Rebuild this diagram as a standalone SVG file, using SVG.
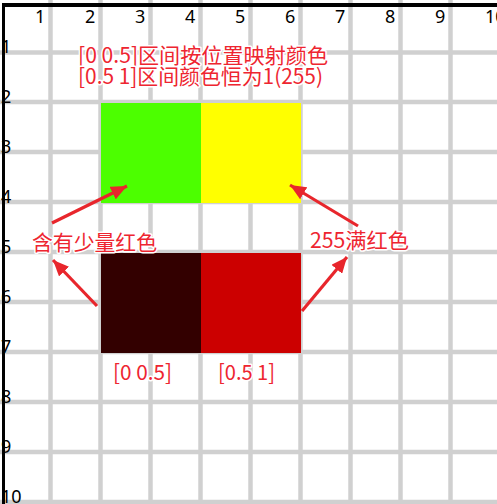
<svg xmlns="http://www.w3.org/2000/svg" width="497" height="504" viewBox="0 0 497 504">
<style>
.g{stroke:#d0d0d0;stroke-width:4.5}
.num{font-family:"Noto Sans","Noto Sans CJK SC",sans-serif;font-size:18px;fill:#000}
.lbl{font-family:"Noto Sans CJK SC","Noto Sans",sans-serif;font-size:21px;fill:#ee2530;stroke:#fff;stroke-width:3;stroke-linejoin:round;paint-order:stroke}
.arr{stroke:#e8262c;stroke-width:3.2;fill:none;marker-end:url(#ah)}
</style>
<defs>
<marker id="ah" markerUnits="userSpaceOnUse" markerWidth="18" markerHeight="14" refX="16" refY="7" orient="auto">
<path d="M0,0 L16,7 L0,14 z" fill="#e8262c"/>
</marker>
</defs>
<rect width="497" height="504" fill="#fff"/>
<g id="grid">
<line class="g" x1="50.5" y1="0" x2="50.5" y2="504"/>
<line class="g" x1="100.5" y1="0" x2="100.5" y2="504"/>
<line class="g" x1="150.5" y1="0" x2="150.5" y2="504"/>
<line class="g" x1="200.5" y1="0" x2="200.5" y2="504"/>
<line class="g" x1="250.5" y1="0" x2="250.5" y2="504"/>
<line class="g" x1="300.5" y1="0" x2="300.5" y2="504"/>
<line class="g" x1="350.5" y1="0" x2="350.5" y2="504"/>
<line class="g" x1="400.5" y1="0" x2="400.5" y2="504"/>
<line class="g" x1="450.5" y1="0" x2="450.5" y2="504"/>
<line class="g" x1="0" y1="52.5" x2="497" y2="52.5"/>
<line class="g" x1="0" y1="102" x2="497" y2="102"/>
<line class="g" x1="0" y1="152" x2="497" y2="152"/>
<line class="g" x1="0" y1="202" x2="497" y2="202"/>
<line class="g" x1="0" y1="252" x2="497" y2="252"/>
<line class="g" x1="0" y1="302" x2="497" y2="302"/>
<line class="g" x1="0" y1="352" x2="497" y2="352"/>
<line class="g" x1="0" y1="402" x2="497" y2="402"/>
<line class="g" x1="0" y1="452" x2="497" y2="452"/>
<line class="g" x1="0" y1="502" x2="497" y2="502"/>
<rect x="2" y="3" width="495" height="4" fill="#000"/>
<rect x="2" y="3" width="3" height="501" fill="#000"/>
</g>
<g id="axis-labels">
<text class="num" x="35" y="23">1</text>
<text class="num" x="85" y="23">2</text>
<text class="num" x="135" y="23">3</text>
<text class="num" x="185" y="23">4</text>
<text class="num" x="235" y="23">5</text>
<text class="num" x="285" y="23">6</text>
<text class="num" x="335" y="23">7</text>
<text class="num" x="385" y="23">8</text>
<text class="num" x="435" y="23">9</text>
<text class="num" x="485" y="23">10</text>
<text class="num" x="1" y="53">1</text>
<text class="num" x="1" y="103">2</text>
<text class="num" x="1" y="153">3</text>
<text class="num" x="1" y="203">4</text>
<text class="num" x="1" y="253">5</text>
<text class="num" x="1" y="303">6</text>
<text class="num" x="1" y="353">7</text>
<text class="num" x="1" y="403">8</text>
<text class="num" x="1" y="453">9</text>
<text class="num" x="1" y="503">10</text>
</g>
<g id="green"><rect x="101" y="103" width="100" height="100" fill="#4cff00"/></g>
<g id="yellow"><rect x="201" y="103" width="100" height="100" fill="#ffff00"/></g>
<g id="darkred"><rect x="101" y="253" width="100" height="100" fill="#330000"/></g>
<g id="red"><rect x="201" y="253" width="100" height="100" fill="#cc0000"/></g>
<g id="labels">
<text class="lbl" x="78" y="63" textLength="250" lengthAdjust="spacingAndGlyphs">[0 0.5]区间按位置映射颜色</text>
<text class="lbl" x="78" y="84" textLength="245" lengthAdjust="spacingAndGlyphs">[0.5 1]区间颜色恒为1(255)</text>
<text class="lbl" id="note-left" x="32" y="250" textLength="125" lengthAdjust="spacingAndGlyphs">含有少量红色</text>
<text class="lbl" id="note-right" x="310" y="248" textLength="99" lengthAdjust="spacingAndGlyphs">255满红色</text>
<text class="lbl" x="113" y="380" textLength="59" lengthAdjust="spacingAndGlyphs">[0 0.5]</text>
<text class="lbl" x="218" y="380" textLength="57" lengthAdjust="spacingAndGlyphs">[0.5 1]</text>
</g>
<g id="connectors">
<line class="arr" x1="52" y1="223" x2="127" y2="186"/>
<line class="arr" x1="97" y1="306" x2="53" y2="260"/>
<line class="arr" x1="358" y1="226" x2="290" y2="185"/>
<line class="arr" x1="302" y1="311" x2="347" y2="257"/>
</g>
</svg>
